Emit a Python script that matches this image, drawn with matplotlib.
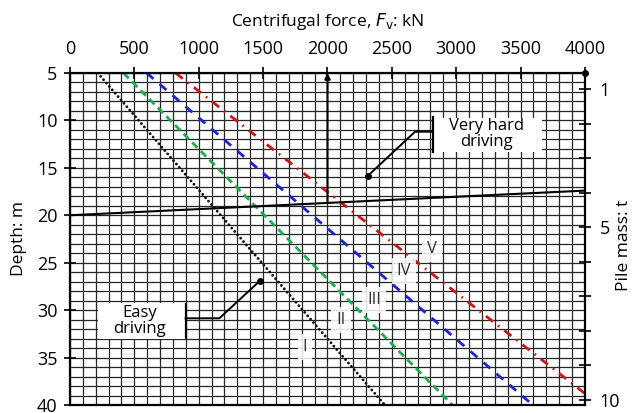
import matplotlib.pyplot as plt
from matplotlib.patches import Rectangle

plt.rcParams['font.family'] = ['Open Sans', 'DejaVu Sans']
plt.rcParams['lines.scale_dashes'] = False

# Zone boundaries: centrifugal force (kN) against depth (m)
depth_ends = [5, 40]
force_I = [215, 2445]
force_II = [415, 2970]
force_III = [595, 3595]
depth_IV = [5, 38.8]
force_IV = [820, 4000]

# Limit line between easy and very hard driving
limit_force = [0, 4000]
limit_depth = [20, 17.4]

zone_names = ['I', 'II', 'III', 'IV', 'V']
zone_force = [1825, 2105, 2361, 2594, 2809]
zone_depth = [33.9, 31.0, 28.9, 25.9, 23.6]

x_ticks = list(range(0, 4001, 500))
y_ticks = list(range(5, 41, 5))
mass_ticks = list(range(1, 11))
mass_labels = ['1', '', '', '', '5', '', '', '', '', '10']

fig = plt.figure(figsize=(6.34, 4.13), dpi=100)
ax = fig.add_axes([0.1104, 0.0194, 0.8123, 0.8039])

ax.set_xlim(0, 4000)
ax.set_ylim(40, 5)

# fine grid, 100 kN by 1 m
for x in range(0, 4001, 100):
    ax.axvline(x, color='#262626', lw=0.9, zorder=1)
for y in range(5, 41):
    ax.axhline(y, color='#262626', lw=0.9, zorder=1)

ax.plot(force_I, depth_ends, color='#111111', lw=2.1,
        linestyle=(0, (0.01, 3.2)), dash_capstyle='round', zorder=4)
ax.plot(force_II, depth_ends, color='#19b04b', lw=2.0,
        linestyle=(0, (5.4, 3.4)), zorder=4)
ax.plot(force_III, depth_ends, color='#1c22d8', lw=2.0,
        linestyle=(0, (6.5, 5.8)), zorder=4)
ax.plot(force_IV, depth_IV, color='#d01414', lw=2.0,
        linestyle=(0, (6.5, 4.5, 1.2, 4.5)), zorder=4)

ax.plot(limit_force, limit_depth, color='black', lw=1.5, zorder=5)

# vertical marker at 2000 kN rising from the limit line
x_mark = 2000
y_mark = limit_depth[0] + (limit_depth[1] - limit_depth[0]) * x_mark / limit_force[1]
ax.annotate('', xy=(x_mark, 5), xytext=(x_mark, y_mark),
            arrowprops=dict(arrowstyle='-|>', color='black', lw=1.5,
                            mutation_scale=8, shrinkA=0, shrinkB=0),
            zorder=5)
ax.plot([4000], [5], 'o', color='black', ms=4, clip_on=False, zorder=8)

for name, fx, dy in zip(zone_names, zone_force, zone_depth):
    ax.text(fx, dy, name, ha='center', va='center', fontsize=12, color='#333333',
            bbox=dict(boxstyle='square,pad=0.3', fc='white', ec='none', alpha=0.85),
            zorder=6)

# Very hard driving callout
ax.add_patch(Rectangle((2820, 9.7), 846, 3.6, fc='white', ec='none', zorder=3))
ax.text(3235, 11.45, 'Very hard\ndriving', ha='center', va='center',
        fontsize=12, linespacing=1.0, zorder=6)
ax.plot([2312, 2680, 2817], [15.86, 11.19, 11.19], color='black', lw=1.4, zorder=5)
ax.plot([2817, 2817], [9.6, 13.36], color='black', lw=1.6, zorder=5)
ax.plot([2312], [15.86], 'o', color='black', ms=4, zorder=6)

# Easy driving callout
ax.add_patch(Rectangle((217, 29.3), 676, 3.7, fc='white', ec='none', zorder=3))
ax.text(540, 31.1, 'Easy\ndriving', ha='center', va='center',
        fontsize=12, linespacing=1.0, zorder=6)
ax.plot([1476, 1160, 898], [26.9, 30.86, 30.86], color='black', lw=1.4, zorder=5)
ax.plot([898, 898], [29.4, 32.9], color='black', lw=1.6, zorder=5)
ax.plot([1476], [26.9], 'o', color='black', ms=4, zorder=6)

ax.xaxis.tick_top()
ax.xaxis.set_label_position('top')
ax.set_xticks(x_ticks)
ax.set_yticks(y_ticks)
ax.tick_params(axis='both', direction='inout', length=8, width=1.2, labelsize=13)
ax.tick_params(axis='x', pad=7)
ax.tick_params(axis='y', pad=5)
ax.set_xlabel(r'Centrifugal force, $F_{\mathrm{v}}$: kN', fontsize=12.5, labelpad=10)
ax.set_ylabel('Depth: m', fontsize=12.5, labelpad=7)
for s in ax.spines.values():
    s.set_linewidth(1.6)
    s.set_zorder(7)

ax2 = ax.twinx()
ax2.set_ylim(10.145, 0.537)
ax2.set_yticks(mass_ticks)
ax2.set_yticklabels(mass_labels)
ax2.tick_params(axis='y', direction='inout', length=9, width=1.2,
                labelsize=13, pad=6)
for s in ax2.spines.values():
    s.set_visible(False)
fig.text(624 / 634, 1 - 245 / 413, 'Pile mass: t', rotation=90,
         ha='center', va='center', fontsize=12.5)

fig.savefig('out.png', dpi=100)
